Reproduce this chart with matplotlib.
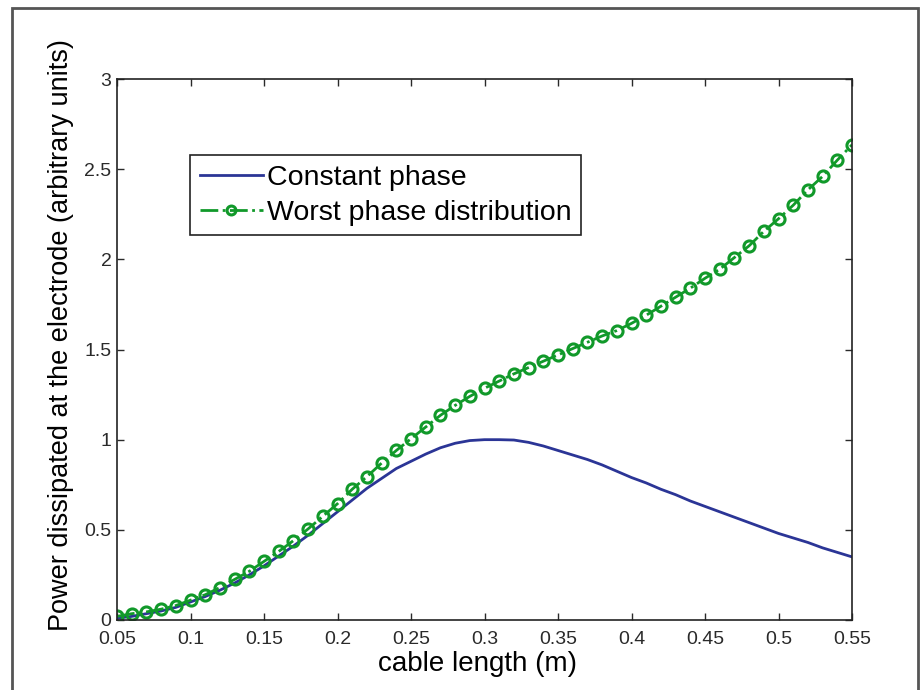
import numpy as np
import matplotlib
matplotlib.use('Agg')
import matplotlib.pyplot as plt
from matplotlib.patches import Rectangle

plt.rcParams['font.family'] = ['Liberation Sans', 'DejaVu Sans']

# cable length (m), sampled every 0.01
cable_len = [0.05, 0.06, 0.07, 0.08, 0.09, 0.10, 0.11, 0.12, 0.13, 0.14,
             0.15, 0.16, 0.17, 0.18, 0.19, 0.20, 0.21, 0.22, 0.23, 0.24,
             0.25, 0.26, 0.27, 0.28, 0.29, 0.30, 0.31, 0.32, 0.33, 0.34,
             0.35, 0.36, 0.37, 0.38, 0.39, 0.40, 0.41, 0.42, 0.43, 0.44,
             0.45, 0.46, 0.47, 0.48, 0.49, 0.50, 0.51, 0.52, 0.53, 0.54,
             0.55]

constant_phase = [0.01, 0.02, 0.035, 0.05, 0.07, 0.10, 0.13, 0.165, 0.205, 0.25,
                  0.30, 0.355, 0.41, 0.47, 0.535, 0.60, 0.665, 0.73, 0.785, 0.84,
                  0.88, 0.92, 0.955, 0.98, 0.995, 1.0, 1.0, 0.998, 0.985, 0.965,
                  0.94, 0.915, 0.89, 0.86, 0.825, 0.79, 0.76, 0.725, 0.695, 0.66,
                  0.63, 0.60, 0.57, 0.54, 0.51, 0.48, 0.455, 0.43, 0.40, 0.375,
                  0.35]

worst_phase = [0.02, 0.035, 0.045, 0.06, 0.08, 0.11, 0.14, 0.18, 0.225, 0.27,
               0.325, 0.38, 0.44, 0.505, 0.575, 0.645, 0.725, 0.795, 0.87, 0.94,
               1.005, 1.07, 1.135, 1.19, 1.24, 1.285, 1.325, 1.365, 1.40, 1.435,
               1.47, 1.505, 1.54, 1.575, 1.605, 1.645, 1.69, 1.74, 1.79, 1.84,
               1.895, 1.945, 2.01, 2.075, 2.155, 2.225, 2.30, 2.385, 2.46, 2.55,
               2.635]

xticks = [0.05, 0.1, 0.15, 0.2, 0.25, 0.3, 0.35, 0.4, 0.45, 0.5, 0.55]
xticklabels = ['0.05', '0.1', '0.15', '0.2', '0.25', '0.3', '0.35', '0.4', '0.45', '0.5', '0.55']
yticks = [0, 0.5, 1, 1.5, 2, 2.5, 3]
yticklabels = ['0', '0.5', '1', '1.5', '2', '2.5', '3']

fig = plt.figure(figsize=(9.22, 6.9), dpi=100)
ax = fig.add_axes([117/922, 70/690, 735/922, 541/690])

# outer frame (bottom edge cropped in the original)
fig.patches.append(Rectangle((12/922, -0.02), 906/922, 1.02 - 8/690,
                             transform=fig.transFigure, fill=False,
                             edgecolor='#555555', lw=2))

ax.plot(cable_len, constant_phase, color='#2b3596', lw=2, label='Constant phase')
ax.plot(cable_len, worst_phase, color='#11992a', lw=2, ls='-.', marker='o',
        ms=8, mfc='none', mew=2.2, label='Worst phase distribution')

ax.set_xlim(0.05, 0.55)
ax.set_ylim(0, 3)
ax.set_xticks(xticks)
ax.set_xticklabels(xticklabels)
ax.set_yticks(yticks)
ax.set_yticklabels(yticklabels)
ax.tick_params(direction='in', length=5, width=1, top=True, right=True,
               labelsize=14, colors='#2a2a2a')
ax.tick_params(axis='x', pad=8)
ax.tick_params(axis='y', pad=4)
for s in ax.spines.values():
    s.set_linewidth(1.2)
    s.set_color('#222222')

ax.set_xlabel('cable length (m)', fontsize=20)
ax.xaxis.set_label_coords(0.49, -0.057)
ax.set_ylabel('Power dissipated at the electrode (arbitrary units)', fontsize=19.5)
ax.yaxis.set_label_coords(-0.058, 0.527)

leg = ax.legend(loc='upper left', bbox_to_anchor=(73/735, 1 - 76/541), fontsize=20.5,
                numpoints=1, handlelength=2.2, handletextpad=0.15, borderpad=0.35,
                labelspacing=0.3, borderaxespad=0, fancybox=False, framealpha=1,
                markerscale=0.8)
leg.get_frame().set_edgecolor('#222222')
leg.get_frame().set_linewidth(1.2)

fig.savefig('out.png', dpi=100)
